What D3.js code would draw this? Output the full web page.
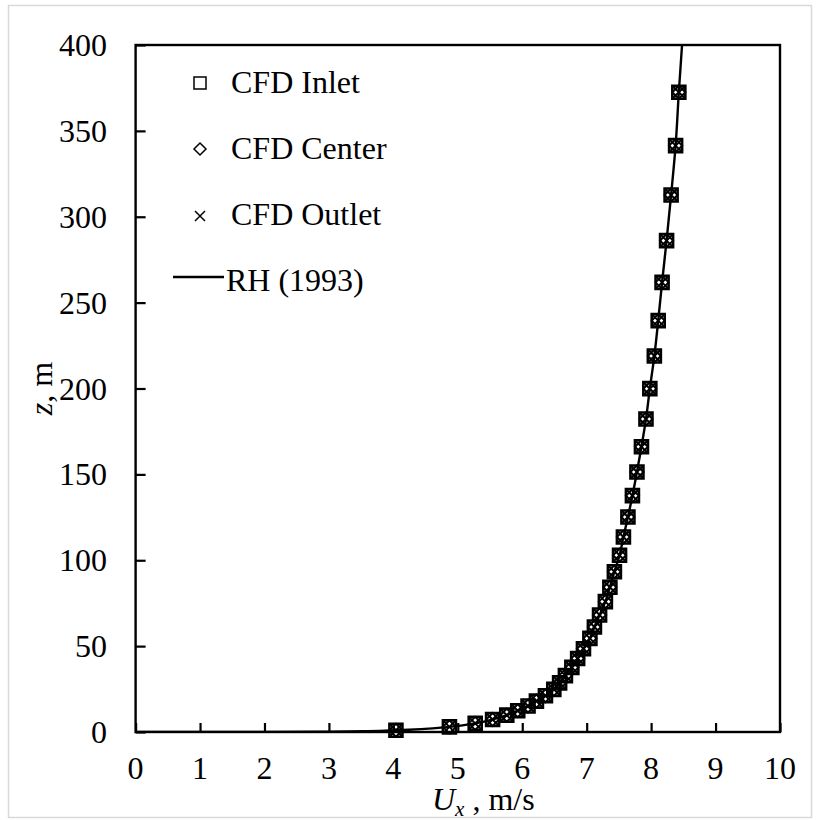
<!DOCTYPE html>
<html>
<head>
<meta charset="utf-8">
<script src="https://cdn.jsdelivr.net/npm/d3@7"></script>
<style>
  html, body { margin: 0; padding: 0; background: #fff; }
  svg { display: block; }
  text { font-family: "Liberation Serif", "Times New Roman", serif; fill: #000; }
</style>
</head>
<body>
<svg id="chart" width="818" height="820"></svg>
<script>
// ---- data ----
const xTicks = [0, 1, 2, 3, 4, 5, 6, 7, 8, 9, 10];
const yTicks = [0, 50, 100, 150, 200, 250, 300, 350, 400];

// heights z (m) of the CFD sampling points
const zLevels = [1.0, 3.0, 5.0, 7.3, 9.8, 12.4, 15.1, 18.0, 21.1, 24.8, 28.6, 32.8, 37.6, 42.8,
  48.5, 54.5, 61.1, 68.1, 75.9, 84.3, 93.3, 102.9, 113.5, 125.2, 137.6, 151.4, 166.1, 182.2,
  199.9, 218.9, 239.5, 261.8, 286.1, 312.7, 341.4, 372.5];
// Ux (m/s) at those heights
const uInlet  = [4.04, 4.87, 5.27, 5.54, 5.76, 5.93, 6.09, 6.22, 6.36, 6.49, 6.58, 6.67, 6.77, 6.86,
  6.95, 7.05, 7.12, 7.20, 7.29, 7.36, 7.43, 7.51, 7.57, 7.64, 7.71, 7.78, 7.85, 7.92,
  7.98, 8.05, 8.11, 8.17, 8.24, 8.31, 8.38, 8.43];
const uCenter = [4.04, 4.87, 5.27, 5.54, 5.76, 5.93, 6.09, 6.22, 6.36, 6.49, 6.58, 6.67, 6.77, 6.86,
  6.95, 7.05, 7.12, 7.20, 7.29, 7.36, 7.43, 7.51, 7.57, 7.64, 7.71, 7.78, 7.85, 7.92,
  7.98, 8.05, 8.11, 8.17, 8.24, 8.31, 8.38, 8.43];
const uOutlet = [4.04, 4.87, 5.27, 5.54, 5.76, 5.93, 6.09, 6.22, 6.36, 6.49, 6.58, 6.67, 6.77, 6.86,
  6.95, 7.05, 7.12, 7.20, 7.29, 7.36, 7.43, 7.51, 7.57, 7.64, 7.71, 7.78, 7.85, 7.92,
  7.98, 8.05, 8.11, 8.17, 8.24, 8.31, 8.38, 8.43];

// RH (1993) profile
const rhU = [0, 2.0, 3.0, 3.6, 4.04, 4.87, 5.27, 5.54, 5.76, 5.93, 6.09, 6.22, 6.36, 6.49, 6.58, 6.67,
  6.77, 6.86, 6.95, 7.05, 7.12, 7.20, 7.29, 7.36, 7.43, 7.51, 7.57, 7.64, 7.71, 7.78, 7.85,
  7.92, 7.98, 8.05, 8.11, 8.17, 8.24, 8.31, 8.38, 8.43, 8.48];
const rhZ = [0, 0.05, 0.2, 0.45, 1.0, 3.0, 5.0, 7.3, 9.8, 12.4, 15.1, 18.0, 21.1, 24.8, 28.6, 32.8,
  37.6, 42.8, 48.5, 54.5, 61.1, 68.1, 75.9, 84.3, 93.3, 102.9, 113.5, 125.2, 137.6, 151.4, 166.1,
  182.2, 199.9, 218.9, 239.5, 261.8, 286.1, 312.7, 341.4, 372.5, 400];

const legendLabels = ["CFD Inlet", "CFD Center", "CFD Outlet", "RH (1993)"];

// ---- layout ----
const svg = d3.select("#chart");
const L = 135.6, R = 780, T = 45, B = 732;

const x = d3.scaleLinear().domain([0, 10]).range([L, R]);
const y = d3.scaleLinear().domain([0, 400]).range([B, T]);

// outer chart border
svg.append("rect").attr("x", 8.5).attr("y", 5.5).attr("width", 803).attr("height", 812)
  .attr("fill", "#fff").attr("stroke", "#d9d9d9").attr("stroke-width", 1.5);

// axes (inner ticks)
const xAxis = svg.append("g").attr("transform", `translate(0,${B})`)
  .call(d3.axisBottom(x).tickValues(xTicks).tickSizeInner(-9).tickSizeOuter(0).tickFormat(""));
const yAxis = svg.append("g").attr("transform", `translate(${L},0)`)
  .call(d3.axisLeft(y).tickValues(yTicks).tickSizeInner(-10).tickSizeOuter(0).tickFormat(""));
[xAxis, yAxis].forEach(g => {
  g.selectAll("line").attr("stroke", "#000").attr("stroke-width", 2.2);
  g.select(".domain").remove();
});
// tick labels
svg.append("g").selectAll("text").data(xTicks).join("text")
  .attr("x", d => x(d)).attr("y", 779).attr("text-anchor", "middle")
  .attr("font-size", 32).text(d => d);
svg.append("g").selectAll("text").data(yTicks).join("text")
  .attr("x", 107).attr("y", d => y(d) + 11).attr("text-anchor", "end")
  .attr("font-size", 32).text(d => d);

// plot frame
svg.append("rect").attr("x", L).attr("y", T).attr("width", R - L).attr("height", B - T)
  .attr("fill", "none").attr("stroke", "#000").attr("stroke-width", 2.4);

// clip
svg.append("clipPath").attr("id", "clip").append("rect")
  .attr("x", L).attr("y", T).attr("width", R - L).attr("height", B - T);

// RH line
const rhData = rhU.map((u, i) => ({u, z: rhZ[i]}));
svg.append("path").datum(rhData).attr("clip-path", "url(#clip)")
  .attr("d", d3.line().x(d => x(d.u)).y(d => y(d.z)).curve(d3.curveMonotoneY))
  .attr("fill", "none").attr("stroke", "#000").attr("stroke-width", 2.4);

// marker shapes
const squarePath = "M-6.5,-6.5H6.5V6.5H-6.5Z";
const diamondPath = "M0,-6.5L6.5,0L0,6.5L-6.5,0Z";
const crossPath = "M-5.5,-5.5L5.5,5.5M-5.5,5.5L5.5,-5.5";

function drawMarkers(us, path, sw) {
  svg.append("g").selectAll("path").data(us.map((u, i) => ({u, z: zLevels[i]}))).join("path")
    .attr("transform", d => `translate(${x(d.u)},${y(d.z)})`)
    .attr("d", path).attr("fill", "none").attr("stroke", "#000").attr("stroke-width", sw);
}
drawMarkers(uInlet, squarePath, 2.6);
drawMarkers(uCenter, diamondPath, 2);
drawMarkers(uOutlet, crossPath, 2);

// legend
const lg = svg.append("g");
const rowsY = [93, 159, 225, 291];
lg.append("path").attr("transform", `translate(200,${rowsY[0] - 10})`).attr("d", "M-6,-6H6V6H-6Z")
  .attr("fill", "#fff").attr("stroke", "#000").attr("stroke-width", 1.5);
lg.append("path").attr("transform", `translate(200,${rowsY[1] - 10})`).attr("d", "M0,-6L6,0L0,6L-6,0Z")
  .attr("fill", "#fff").attr("stroke", "#000").attr("stroke-width", 1.5);
lg.append("path").attr("transform", `translate(200,${rowsY[2] - 9})`).attr("d", "M-5,-5L5,5M-5,5L5,-5")
  .attr("fill", "none").attr("stroke", "#000").attr("stroke-width", 1.5);
lg.append("line").attr("x1", 173).attr("x2", 224).attr("y1", rowsY[3] - 14).attr("y2", rowsY[3] - 14)
  .attr("stroke", "#000").attr("stroke-width", 2.4);
lg.selectAll("text").data(legendLabels).join("text")
  .attr("x", (d, i) => i === 3 ? 226 : 231).attr("y", (d, i) => rowsY[i])
  .attr("font-size", 32).text(d => d);

// axis titles
const xt = svg.append("text").attr("x", 432).attr("y", 810).attr("font-size", 32);
xt.append("tspan").attr("font-style", "italic").text("U");
xt.append("tspan").attr("font-style", "italic").attr("font-size", 21).attr("dy", 6).text("x");
xt.append("tspan").attr("dy", -6).text(" , m/s");

const yt = svg.append("text").attr("transform", `translate(52,${(T + B) / 2}) rotate(-90)`)
  .attr("text-anchor", "middle").attr("font-size", 32);
yt.append("tspan").attr("font-style", "italic").text("z");
yt.append("tspan").text(", m");
</script>
</body>
</html>
